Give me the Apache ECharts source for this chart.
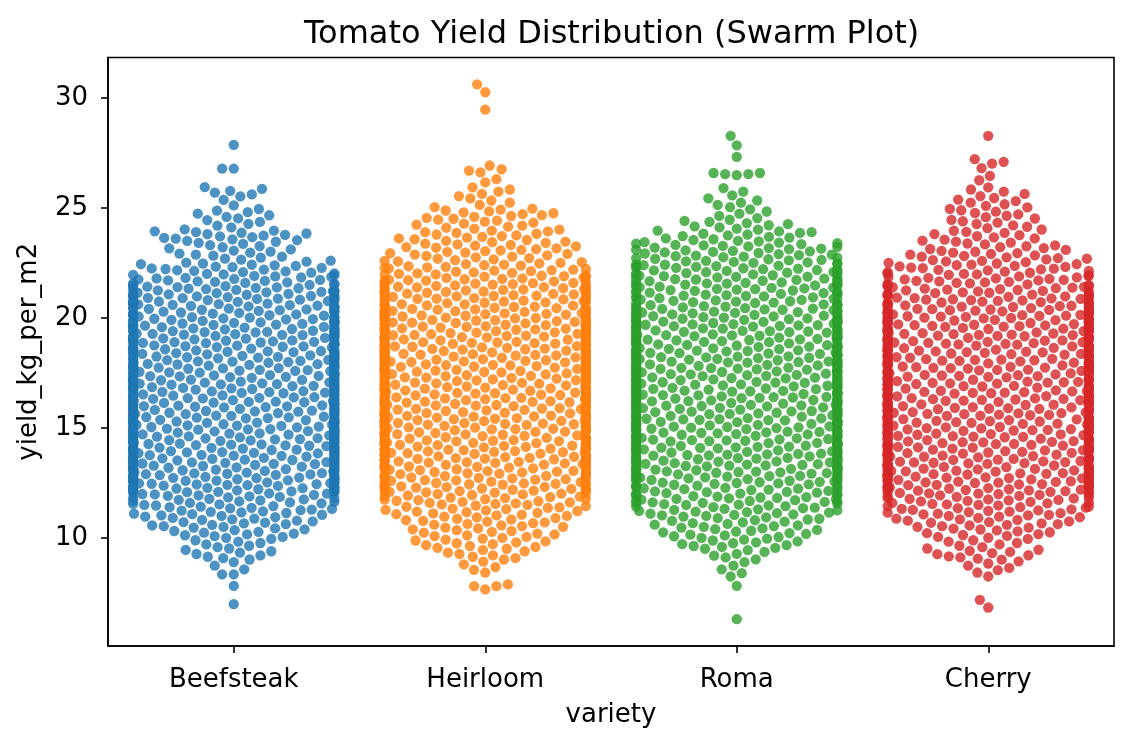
<!DOCTYPE html>
<html>
<head>
<meta charset="utf-8">
<title>Tomato Yield Distribution (Swarm Plot)</title>
<script src="https://cdn.jsdelivr.net/npm/echarts@6/dist/echarts.min.js"></script>
<style>
  html, body { margin: 0; padding: 0; background: #fff; }
  #main { width: 1132px; height: 748px; }
</style>
</head>
<body>
<div id="main"></div>
<script>
// categories and colours
const varieties = ['Beefsteak', 'Heirloom', 'Roma', 'Cherry'];
const colors = ['#1f77b4', '#ff7f0e', '#2ca02c', '#d62728'];

// number of plants per 0.5 kg/m2 band, read off the swarm width
// band i covers [6.0 + 0.5*i, 6.5 + 0.5*i)
const binStart = 6.0;
const binWidth = 0.5;
const beefsteakCounts = [
  0, 0, 0, 0, 0, 3, 8, 8, 13, 16, 19, 22,
  30, 32, 31, 32, 31, 33, 32, 31, 32, 31, 32, 31, 30, 31, 32, 30, 28, 30, 27,
  22, 18, 11, 10, 15, 6, 7, 2, 6, 0, 0, 0, 0, 0, 0, 0, 0, 0, 0
];
const heirloomCounts = [
  0, 0, 0, 0, 0, 4, 8, 12, 13, 15, 18, 21,
  26, 26, 28, 31, 32, 31, 32, 31, 32, 31, 31, 32, 31, 31, 30, 31, 29, 26, 27,
  25, 20, 16, 16, 14, 11, 12, 5, 5, 0, 0, 0, 0, 0, 0, 0, 0, 0, 0
];
const romaCounts = [
  0, 0, 0, 0, 0, 3, 6, 12, 14, 15, 20, 25,
  25, 29, 31, 31, 32, 31, 32, 31, 31, 32, 31, 32, 31, 30, 31, 31, 28, 25, 26,
  26, 25, 21, 20, 14, 10, 5, 5, 3, 0, 0, 0, 0, 0, 0, 0, 0, 0, 0
];
const cherryCounts = [
  0, 0, 0, 0, 0, 5, 10, 8, 12, 16, 20, 22,
  30, 31, 32, 31, 32, 31, 32, 31, 32, 31, 31, 32, 31, 31, 32, 31, 31, 27, 24,
  22, 19, 16, 12, 10, 8, 8, 7, 5, 0, 0, 0, 0, 0, 0, 0, 0, 0, 0
];

// single outlying plants, read one by one
const beefsteakTails = [7.0, 7.83, 8.36, 8.36, 26.8, 26.8, 27.88];
const heirloomTails = [7.67, 7.82, 7.82, 7.9, 8.44, 26.17, 26.32, 26.63, 26.71, 26.77, 26.94, 29.48, 30.27, 30.63];
const romaTails = [6.32, 7.83, 8.26, 8.41, 26.5, 26.55, 26.55, 26.6, 26.6, 27.33, 27.86, 28.29];
const cherryTails = [6.85, 7.2, 8.26, 8.44, 26.27, 26.47, 26.82, 27.03, 27.11, 27.23, 28.29];

const yTicks = [10, 15, 20, 25, 30];
const yMin = 5.1, yMax = 31.85;

const allCounts = [beefsteakCounts, heirloomCounts, romaCounts, cherryCounts];
const allTails = [beefsteakTails, heirloomTails, romaTails, cherryTails];

// plot box in pixels
const W = 1132, H = 748;
const gridLeft = 108, gridRight = 18, gridTop = 57.5, gridBottom = 102;
const pxPerX = (W - gridLeft - gridRight) / 4;
const pxPerY = (H - gridTop - gridBottom) / (yMax - yMin);
const dotSize = 10.3;
const sepPx = 11.1;
const halfWidthPx = 0.4 * pxPerX;

function valuesFor(counts, tails) {
  const vals = tails.slice();
  counts.forEach((n, i) => {
    const lo = binStart + i * binWidth;
    for (let k = 0; k < n; k++) vals.push(lo + (k + 0.5) * binWidth / n);
  });
  return vals.sort((a, b) => a - b);
}

// seaborn style swarm: each dot goes as close to the middle as it can
function swarm(ys, d) {
  const xs = new Array(ys.length);
  for (let i = 0; i < ys.length; i++) {
    const y = ys[i];
    const nb = [];
    for (let j = i - 1; j >= 0; j--) {
      if (y - ys[j] >= d) break;
      nb.push(j);
    }
    const cands = [0];
    nb.forEach(j => {
      const dy = y - ys[j];
      const dx = Math.sqrt(Math.max(d * d - dy * dy, 0)) * 1.05;
      cands.push(xs[j] - dx, xs[j] + dx);
    });
    cands.sort((a, b) => Math.abs(a) - Math.abs(b));
    let pick = cands[cands.length - 1];
    for (const c of cands) {
      let ok = true;
      for (const j of nb) {
        const dx = c - xs[j], dy = y - ys[j];
        if (dx * dx + dy * dy < d * d - 1e-6) { ok = false; break; }
      }
      if (ok) { pick = c; break; }
    }
    xs[i] = pick;
  }
  return xs;
}

const series = varieties.map((name, ci) => {
  const vals = valuesFor(allCounts[ci], allTails[ci]);
  const xs = swarm(vals.map(v => v * pxPerY), sepPx);
  const data = vals.map((v, k) => {
    let x = xs[k];
    if (x > halfWidthPx) x = halfWidthPx;
    if (x < -halfWidthPx) x = -halfWidthPx;
    return [ci + x / pxPerX, v];
  });
  return {
    name: name,
    type: 'scatter',
    data: data,
    symbol: 'circle',
    symbolSize: dotSize,
    silent: true,
    itemStyle: { color: colors[ci], opacity: 0.8, borderWidth: 0 }
  };
});

const font = 'DejaVu Sans';
const myChart = echarts.init(document.getElementById('main'), null, { renderer: 'canvas' });
const option = {
  animation: false,
  backgroundColor: '#fff',
  title: {
    text: 'Tomato Yield Distribution (Swarm Plot)',
    left: 299,
    top: 14,
    textStyle: { fontFamily: font, fontSize: 32, fontWeight: 'normal', color: '#000' }
  },
  grid: {
    left: gridLeft, right: gridRight, top: gridTop, bottom: gridBottom,
    show: true, borderColor: '#000', borderWidth: 1.6, backgroundColor: 'transparent'
  },
  xAxis: {
    type: 'value',
    min: -0.5,
    max: 3.5,
    name: 'variety',
    nameLocation: 'middle',
    nameGap: 56,
    nameTextStyle: { fontFamily: font, fontSize: 26, color: '#000' },
    axisLine: { show: true, onZero: false, lineStyle: { color: '#000', width: 1.6 } },
    axisTick: { show: true, length: 7, customValues: [0, 1, 2, 3], lineStyle: { color: '#000', width: 1.6 } },
    axisLabel: {
      customValues: [0, 1, 2, 3],
      margin: 21,
      fontFamily: font, fontSize: 26, color: '#000',
      formatter: v => varieties[Math.round(v)]
    },
    splitLine: { show: false }
  },
  yAxis: {
    type: 'value',
    min: yMin,
    max: yMax,
    name: 'yield_kg_per_m2',
    nameLocation: 'middle',
    nameGap: 66,
    nameRotate: 90,
    nameTextStyle: { fontFamily: font, fontSize: 26, color: '#000' },
    axisLine: { show: true, onZero: false, lineStyle: { color: '#000', width: 1.6 } },
    axisTick: { show: true, length: 7, customValues: yTicks, lineStyle: { color: '#000', width: 1.6 } },
    axisLabel: {
      customValues: yTicks,
      margin: 20,
      fontFamily: font, fontSize: 26, color: '#000'
    },
    splitLine: { show: false }
  },
  series: series
};
myChart.setOption(option);
</script>
</body>
</html>
